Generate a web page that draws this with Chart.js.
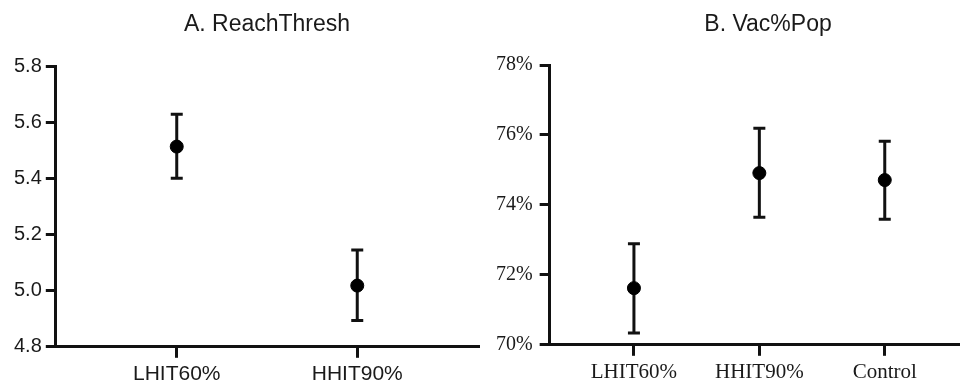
<!DOCTYPE html>
<html>
<head>
<meta charset="utf-8">
<script src="https://cdn.jsdelivr.net/npm/chart.js@4"></script>
<style>
  html, body { margin: 0; padding: 0; background: #fff; overflow: hidden; width: 960px; height: 381px; }
  .panel { position: absolute; top: 0; width: 480px; }
  .title { position: absolute; top: 10px; font: 23px "Liberation Sans", Arial, sans-serif; color: #1a1a1a; white-space: nowrap; transform: translateX(-50%); }
</style>
</head>
<body>
<div class="panel" style="left:0; height:391px"><canvas id="chartA"></canvas></div>
<div class="panel" style="left:480px; height:389px"><canvas id="chartB"></canvas></div>
<div class="title" style="left:267px">A. ReachThresh</div>
<div class="title" style="left:768px">B. Vac%Pop</div>
<script>
// panel A: ReachThresh
const catsA = ["LHIT60%", "HHIT90%"];
const meanA = [5.513, 5.018];
const lowA = [5.400, 4.894];
const highA = [5.628, 5.145];

// panel B: Vac%Pop
const catsB = ["LHIT60%", "HHIT90%", "Control"];
const meanB = [71.62, 74.91, 74.71];
const lowB = [70.34, 73.65, 73.59];
const highB = [72.89, 76.19, 75.82];

// error bars drawn with the chart's own scales
const errorBars = {
    id: "errorBars",
    beforeDatasetsDraw(chart, args, opts) {
        const { ctx, scales: { x, y } } = chart;
        ctx.save();
        ctx.strokeStyle = "#111";
        ctx.lineWidth = 3;
        opts.low.forEach((lo, i) => {
            const px = x.getPixelForValue(i + 1);
            const top = y.getPixelForValue(opts.high[i]);
            const bot = y.getPixelForValue(lo);
            ctx.beginPath();
            ctx.moveTo(px, top); ctx.lineTo(px, bot);
            ctx.moveTo(px - 6, top); ctx.lineTo(px + 6, top);
            ctx.moveTo(px - 6, bot); ctx.lineTo(px + 6, bot);
            ctx.stroke();
        });
        ctx.restore();
    }
};

function makeChart(id, cats, mean, low, high, yOpts, font, xMin, xMax, padLeft, padTop, yPad) {
    const axisLine = {
        border: { display: true, color: "#111", width: 3 },
        grid: { drawOnChartArea: false, drawTicks: true, tickLength: 10, tickWidth: 3, tickColor: "#111" }
    };
    return new Chart(document.getElementById(id), {
        type: "scatter",
        data: {
            datasets: [{
                data: mean.map((v, i) => ({ x: i + 1, y: v })),
                backgroundColor: "#000",
                borderColor: "#000",
                pointRadius: 6.5,
                pointHoverRadius: 6.5
            }]
        },
        options: {
            responsive: true,
            maintainAspectRatio: false,
            animation: false,
            layout: { autoPadding: false, padding: { top: padTop, left: padLeft, right: 0, bottom: 0 } },
            plugins: {
                legend: { display: false },
                tooltip: { enabled: false },
                errorBars: { low, high }
            },
            scales: {
                x: {
                    type: "linear",
                    min: xMin,
                    max: xMax,
                    ...axisLine,
                    grid: { ...axisLine.grid, tickLength: 11 },
                    afterBuildTicks: s => { s.ticks = cats.map((c, i) => ({ value: i + 1 })); },
                    ticks: {
                        padding: 4,
                        color: "#1a1a1a",
                        font: { family: font, size: 21 },
                        callback: v => cats[v - 1]
                    }
                },
                y: {
                    ...yOpts,
                    ...axisLine,
                    ticks: {
                        ...yOpts.ticks,
                        padding: yPad,
                        color: "#1a1a1a",
                        font: { family: font, size: 20 }
                    }
                }
            }
        },
        plugins: [errorBars]
    });
}

makeChart("chartA", catsA, meanA, lowA, highA, {
    min: 4.8, max: 5.8,
    ticks: { stepSize: 0.2, callback: v => v.toFixed(1) }
}, "'Liberation Sans', Arial, sans-serif", 0.33, 2.68, 10, 66, 4);

makeChart("chartB", catsB, meanB, lowB, highB, {
    min: 70, max: 78,
    ticks: { stepSize: 2, callback: v => v + "%" }
}, "'Liberation Serif', 'Times New Roman', serif", 0.328, 3.6, 9, 65, 7);
</script>
</body>
</html>
